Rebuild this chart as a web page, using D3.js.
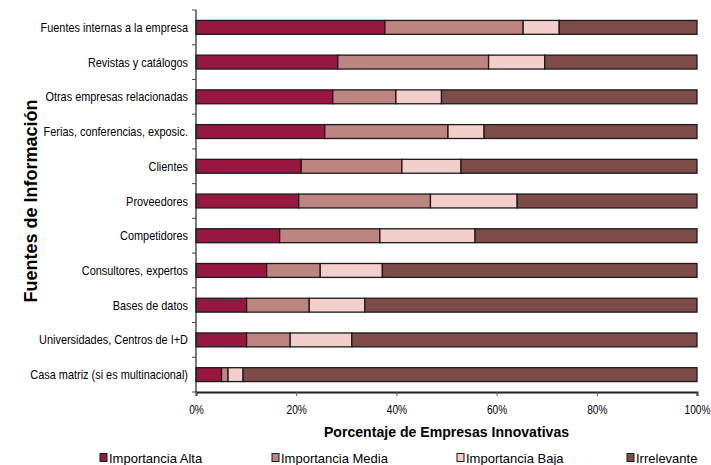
<!DOCTYPE html>
<html>
<head>
<meta charset="utf-8">
<script src="https://cdn.jsdelivr.net/npm/d3@7"></script>
<style>
  html, body { margin: 0; padding: 0; background: #fff; }
  svg { display: block; }
  text { font-family: "Liberation Sans", Arial, sans-serif; fill: #000; }
</style>
</head>
<body>
<svg id="chart" width="711" height="465"></svg>
<script>
// Information sources, top to bottom
const categories = [
  "Fuentes internas a la empresa",
  "Revistas y catálogos",
  "Otras empresas relacionadas",
  "Ferias, conferencias, exposic.",
  "Clientes",
  "Proveedores",
  "Competidores",
  "Consultores, expertos ",
  "Bases de datos",
  "Universidades, Centros de I+D",
  "Casa matriz (si es multinacional)"
];

// Share of innovative firms (%) per importance level
const importanciaAlta  = [37.7, 28.3, 27.3, 25.7, 21.0, 20.5, 16.7, 14.1, 10.1, 10.1, 5.1];
const importanciaMedia = [27.6, 30.1, 12.6, 24.6, 20.1, 26.3, 20.0, 10.7, 12.5, 8.7, 1.3];
const importanciaBaja  = [7.2, 11.2, 9.1, 7.2, 11.8, 17.3, 19.0, 12.4, 11.1, 12.3, 3.0];
const irrelevante      = [27.5, 30.4, 51.0, 42.5, 47.1, 35.9, 44.3, 62.8, 66.3, 68.9, 90.6];

const seriesNames = ["Importancia Alta", "Importancia Media", "Importancia Baja", "Irrelevante"];
const seriesColors = ["#961840", "#bd857f", "#f2cfca", "#7d4c49"];
const xTickValues = [0, 20, 40, 60, 80, 100];

const rows = categories.map((c, i) => ({
  cat: c,
  "Importancia Alta": importanciaAlta[i],
  "Importancia Media": importanciaMedia[i],
  "Importancia Baja": importanciaBaja[i],
  "Irrelevante": irrelevante[i]
}));

const svg = d3.select("#chart");
const margin = { left: 196, top: 10, right: 14, bottom: 73 };
const width = 711 - margin.left - margin.right;
const height = 465 - margin.top - margin.bottom;

// horizontal squeeze that gives the labels a condensed look
const narrow = 0.84;

const g = svg.append("g").attr("transform", `translate(${margin.left},${margin.top})`);

const x = d3.scaleLinear().domain([0, 100]).range([0, width]);
const y = d3.scaleBand().domain(categories).range([0, height]).paddingInner(0.6).paddingOuter(0.3);

const layers = d3.stack().keys(seriesNames)(rows);

// Stacked bars
g.selectAll("g.layer")
  .data(layers)
  .join("g")
  .attr("class", "layer")
  .attr("fill", (d, i) => seriesColors[i])
  .selectAll("rect")
  .data(d => d)
  .join("rect")
  .attr("x", d => x(d[0]))
  .attr("y", d => y(d.data.cat))
  .attr("width", d => x(d[1]) - x(d[0]))
  .attr("height", y.bandwidth())
  .attr("stroke", "#1a1a1a")
  .attr("stroke-width", 1.3);

// Left axis: line with ticks between categories
const yAxisG = g.append("g");
yAxisG.append("line")
  .attr("x1", 0).attr("x2", 0).attr("y1", 0).attr("y2", height)
  .attr("stroke", "#222").attr("stroke-width", 1.2);
const boundaries = d3.range(0, categories.length + 1).map(i => i * (height / categories.length));
yAxisG.selectAll("line.tk")
  .data(boundaries)
  .join("line")
  .attr("class", "tk")
  .attr("x1", -4).attr("x2", 0)
  .attr("y1", d => d).attr("y2", d => d)
  .attr("stroke", "#444").attr("stroke-width", 1);

// Category labels
g.selectAll("text.cat")
  .data(categories)
  .join("text")
  .attr("class", "cat")
  .attr("transform", d => `translate(-8,${y(d) + y.bandwidth() / 2}) scale(${narrow},1)`)
  .attr("dy", "0.35em")
  .attr("text-anchor", "end")
  .attr("font-size", 13)
  .text(d => d);

// Bottom axis
const xAxis = d3.axisBottom(x)
  .tickValues(xTickValues)
  .tickFormat(d => d + "%")
  .tickSize(4)
  .tickPadding(9);
const xAxisG = g.append("g").attr("transform", `translate(0,${height})`).call(xAxis);
xAxisG.select(".domain").attr("stroke", "#222").attr("stroke-width", 2);
xAxisG.selectAll(".tick line").attr("stroke", "#555");
xAxisG.selectAll(".tick text")
  .attr("font-size", 13)
  .attr("transform", "scale(0.78,1)")
  .attr("x", 0)
  .style("font-family", "'Liberation Sans', Arial, sans-serif")
  .attr("fill", "#000");

// Axis titles
svg.append("text")
  .attr("transform", `translate(${margin.left + width / 2},437) scale(0.94,1)`)
  .attr("text-anchor", "middle")
  .attr("font-size", 15)
  .attr("font-weight", "bold")
  .text("Porcentaje de Empresas Innovativas");

svg.append("text")
  .attr("transform", `translate(37,${margin.top + height / 2}) rotate(-90)`)
  .attr("text-anchor", "middle")
  .attr("font-size", 18)
  .attr("font-weight", "bold")
  .text("Fuentes de Información");

// Legend
const legendX = [100, 272, 457, 627];
const items = svg.append("g").selectAll("g")
  .data(seriesNames)
  .join("g")
  .attr("transform", (d, i) => `translate(${legendX[i]},458)`);
items.append("rect")
  .attr("x", 0).attr("y", -4.5)
  .attr("width", 7).attr("height", 8)
  .attr("fill", (d, i) => seriesColors[i])
  .attr("stroke", "#1a1a1a").attr("stroke-width", 1);
items.append("text")
  .attr("x", 9)
  .attr("dy", "0.35em")
  .attr("font-size", 13)
  .text(d => d);
</script>
</body>
</html>
